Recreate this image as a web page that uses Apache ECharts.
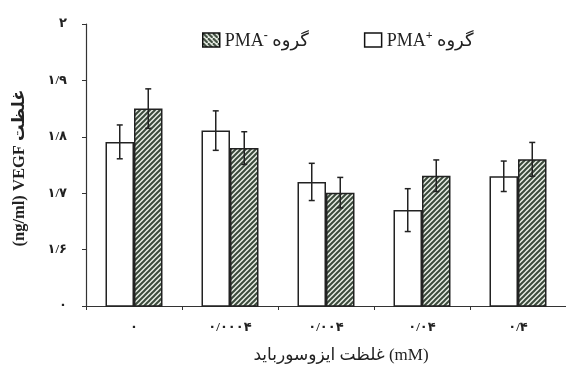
<!DOCTYPE html>
<html>
<head>
<meta charset="utf-8">
<script src="https://cdn.jsdelivr.net/npm/echarts@6/dist/echarts.min.js"></script>
<style>
html,body{margin:0;padding:0;background:#fff;}
#c{width:566px;height:369px;}
</style>
</head>
<body>
<div id="c"></div>
<script>
// ---- data ----
var categories = ['۰', '۰/۰۰۰۴', '۰/۰۰۴', '۰/۰۴', '۰/۴'];
var pmaPlus = [1.791, 1.811, 1.720, 1.670, 1.730];
var pmaPlusErr = [0.030, 0.035, 0.033, 0.038, 0.027];
var pmaMinus = [1.850, 1.780, 1.701, 1.731, 1.760];
var pmaMinusErr = [0.035, 0.029, 0.027, 0.028, 0.030];
var yTicks = [1.5, 1.6, 1.7, 1.8, 1.9, 2.0];
var yTickLabels = ['۰', '۱/۶', '۱/۷', '۱/۸', '۱/۹', '۲'];
var namePlus = 'PMA+';
var nameMinus = 'PMA-';

function makeHatch(flip) {
  var s = 5;
  var cv = document.createElement('canvas');
  cv.width = s; cv.height = s;
  var ctx = cv.getContext('2d');
  ctx.fillStyle = '#e9eee6';
  ctx.fillRect(0, 0, s, s);
  ctx.strokeStyle = '#3b4a3c';
  ctx.lineWidth = 2;
  var segs = flip ? [[-1,-1,1,1],[0,0,s,s],[s-1,s-1,s+1,s+1]] : [[-1,1,1,-1],[0,s,s,0],[s-1,s+1,s+1,s-1]];
  segs.forEach(function (g) { ctx.beginPath(); ctx.moveTo(g[0], g[1]); ctx.lineTo(g[2], g[3]); ctx.stroke(); });
  return cv;
}
var hatch = { image: makeHatch(false), repeat: 'repeat' };
var hatchLegend = { image: makeHatch(true), repeat: 'repeat' };

var barW = 28.5;
function errSeries(vals, errs, side) {
  return {
    type: 'custom',
    silent: true,
    z: 5,
    data: vals.map(function (v, i) { return [i, v - errs[i], v + errs[i]]; }),
    renderItem: function (params, api) {
      var lo = api.coord([api.value(0), api.value(1)]);
      var hi = api.coord([api.value(0), api.value(2)]);
      var x = lo[0] + side * barW / 2;
      var cap = 3;
      var st = { stroke: '#222', lineWidth: 1.5 };
      return {
        type: 'group',
        children: [
          { type: 'line', shape: { x1: x, y1: lo[1], x2: x, y2: hi[1] }, style: st },
          { type: 'line', shape: { x1: x - cap, y1: lo[1], x2: x + cap, y2: lo[1] }, style: st },
          { type: 'line', shape: { x1: x - cap, y1: hi[1], x2: x + cap, y2: hi[1] }, style: st }
        ]
      };
    }
  };
}

var serif = '"Liberation Serif", "DejaVu Serif", "DejaVu Sans", serif';
var chart = echarts.init(document.getElementById('c'), null, { renderer: 'canvas' });
chart.setOption({
  animation: false,
  backgroundColor: '#fff',
  grid: { left: 86, right: -13, top: 24, bottom: 63, containLabel: false },
  legend: {
    left: 197, top: 25,
    itemWidth: 17, itemHeight: 14, itemGap: 55,
    icon: 'rect',
    selectedMode: false,
    data: [
      { name: nameMinus, itemStyle: { color: hatchLegend, borderColor: '#111', borderWidth: 1.5 } },
      { name: namePlus, itemStyle: { color: '#fff', borderColor: '#111', borderWidth: 1.5 } }
    ],
    formatter: function (n) {
      var sup = n === namePlus ? '+' : '-';
      return '{a|PMA}{s|' + sup + '}{a| گروه}';
    },
    textStyle: {
      rich: {
        a: { fontFamily: serif, fontSize: 18, color: '#222', verticalAlign: 'bottom', lineHeight: 20 },
        s: { fontFamily: serif, fontSize: 12, fontWeight: 'bold', color: '#222', verticalAlign: 'top', lineHeight: 20, padding: [0, 0, 8, 0] }
      }
    }
  },
  xAxis: {
    type: 'category',
    data: categories,
    axisLine: { lineStyle: { color: '#333', width: 1.2 } },
    axisTick: { show: true, length: 4, alignWithLabel: false, lineStyle: { color: '#333' } },
    axisLabel: { margin: 15, fontFamily: serif, fontSize: 13, fontWeight: 'bold', color: '#222' },
    name: 'غلظت ایزوسورباید (mM)',
    nameLocation: 'middle',
    nameGap: 41,
    nameTextStyle: { fontFamily: serif, fontSize: 17, color: '#222', padding: [0, 0, 0, 30] }
  },
  yAxis: {
    type: 'value',
    min: 1.5, max: 2.0, interval: 0.1,
    axisLine: { show: true, lineStyle: { color: '#333', width: 1.2 } },
    axisTick: { show: true, length: 4, lineStyle: { color: '#333' } },
    splitLine: { show: false },
    axisLabel: {
      margin: 19,
      fontFamily: serif, fontSize: 13, fontWeight: 'bold', color: '#222',
      formatter: function (v) {
        for (var i = 0; i < yTicks.length; i++) if (Math.abs(v - yTicks[i]) < 1e-6) return yTickLabels[i];
        return '';
      }
    },
    name: '(ng/ml) VEGF غلظت',
    nameLocation: 'middle',
    nameGap: 58,
    nameRotate: 90,
    nameTextStyle: { fontFamily: serif, fontSize: 16.5, fontWeight: 'bold', color: '#222', padding: [0, 6, 0, 0] }
  },
  series: [
    {
      name: namePlus, type: 'bar', data: pmaPlus, barWidth: barW, barGap: '0%',
      itemStyle: { color: '#fff', borderColor: '#222', borderWidth: 1.5 }
    },
    {
      name: nameMinus, type: 'bar', data: pmaMinus, barWidth: barW, barGap: '0%',
      itemStyle: { color: hatch, borderColor: '#222', borderWidth: 1.5 }
    },
    errSeries(pmaPlus, pmaPlusErr, -1),
    errSeries(pmaMinus, pmaMinusErr, 1)
  ]
});
</script>
</body>
</html>
